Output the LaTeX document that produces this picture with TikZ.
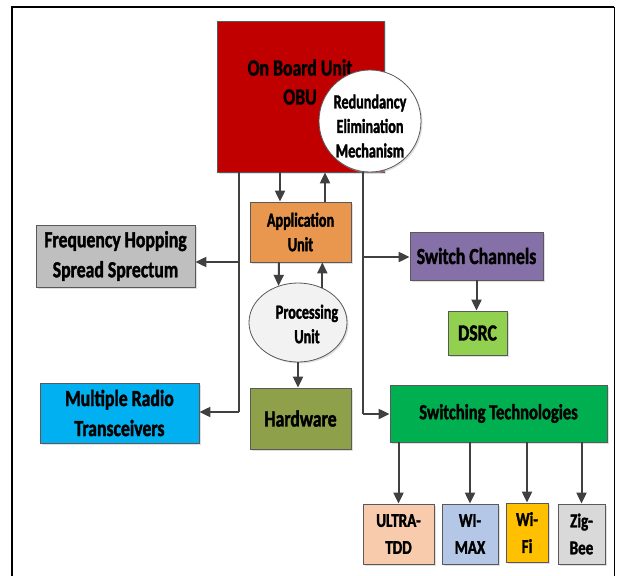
\documentclass[tikz,border=0pt]{standalone}
\usepackage{fontspec}
\setmainfont[FakeStretch=0.77, BoldFeatures={FakeBold=1.6}]{Carlito}
\newfontfamily\narrowfont[FakeStretch=0.71, BoldFeatures={FakeBold=1.6}]{Carlito}
\usetikzlibrary{arrows.meta,shapes.geometric,shadows}

\definecolor{obured}{HTML}{C00000}
\definecolor{fhssgray}{HTML}{BFBFBF}
\definecolor{mrtblue}{HTML}{00B0F0}
\definecolor{apporange}{HTML}{E9974F}
\definecolor{procgray}{HTML}{F2F2F2}
\definecolor{hwolive}{HTML}{8FA04B}
\definecolor{scpurple}{HTML}{8670A8}
\definecolor{dsrcgreen}{HTML}{92D050}
\definecolor{stgreen}{HTML}{00B050}
\definecolor{ultrapeach}{HTML}{F8CBAD}
\definecolor{wimaxblue}{HTML}{B4C7E7}
\definecolor{wifigold}{HTML}{FFC000}
\definecolor{zigbeegray}{HTML}{D9D9D9}
\definecolor{boxline}{HTML}{595959}
\definecolor{wire}{HTML}{404040}

\begin{document}
\begin{tikzpicture}[x=1pt,y=-1pt,
  shade/.style={drop shadow={shadow xshift=1.5pt,shadow yshift=-1.5pt,fill=black!25}},
  box/.style={draw=boxline, line width=0.8pt, inner sep=0pt, align=center,
    font=\bfseries\fontsize{23}{30}\selectfont, shade},
  smallfont/.style={font=\narrowfont\bfseries\fontsize{20}{24.5}\selectfont},
  smallbox/.style={box, smallfont},
  tinybox/.style={box, font=\bfseries\fontsize{19.5}{27}\selectfont},
  wireline/.style={draw=wire, line width=2pt},
  arr/.style={wireline, -{Triangle[length=11pt,width=10pt]}}
]
\useasboundingbox (0,0) rectangle (617,575);

% page frame
\draw[line width=1.5pt] (12,7) -- (614,7);
\draw[line width=2pt] (12,6.3) -- (12,590);
\draw[line width=1pt] (614,7) -- (614,590);

% on board unit
\node[box, fill=obured, minimum width=167pt, minimum height=151pt] (obu) at (300.5,96.5) {};
\node[font=\bfseries\fontsize{23}{29}\selectfont, align=center] (obutext) at (300,82) {On Board Unit\\OBU};
\node[circle, draw=boxline, line width=0.8pt, fill=white, minimum size=102pt, inner sep=0pt,
  shade] (rem) at (370,121) {};
\node[smallfont, align=center] (remtext) at (370,126) {Redundancy\\Elimination\\Mechanism};

% left side
\node[box, fill=fhssgray, minimum width=159pt, minimum height=62pt] (fhss) at (115.5,256)
  {Frequency Hopping\\Spread Sprectum};
\node[box, fill=mrtblue, minimum width=159pt, minimum height=60pt] (mrt) at (119.5,413)
  {Multiple Radio\\Transceivers};

% central column
\node[smallbox, fill=apporange, minimum width=101pt, minimum height=60pt] (app) at (300.5,232)
  {Application\\Unit};
\node[ellipse, draw=boxline, line width=0.8pt, fill=procgray, minimum width=98pt, minimum height=79pt,
  inner sep=0pt, shade] (proc) at (298,322.5) {};
\node[smallfont, align=center] (proctext) at (307,324) {Processing\\Unit};
\node[box, fill=hwolive, minimum width=101pt, minimum height=61pt] (hw) at (300.5,418.5) {Hardware};

% right side
\node[box, fill=scpurple, minimum width=133pt, minimum height=48pt] (sc) at (476.5,256) {Switch Channels};
\node[box, fill=dsrcgreen, minimum width=59pt, minimum height=44pt] (dsrc) at (477.5,333) {DSRC};
\node[box, fill=stgreen, minimum width=217pt, minimum height=57pt,
  font=\bfseries\fontsize{21.5}{29}\selectfont] (st) at (498.5,413.5) {Switching Technologies};

% technologies
\node[tinybox, fill=ultrapeach, minimum width=71pt, minimum height=60pt] (ultra) at (398.5,534) {ULTRA-\\TDD};
\node[tinybox, fill=wimaxblue, minimum width=56pt, minimum height=60pt] (wimax) at (470,534) {WI-\\MAX};
\node[tinybox, fill=wifigold, minimum width=42pt, minimum height=59pt] (wifi) at (527,532.5) {Wi-\\Fi};
\node[tinybox, fill=zigbeegray, minimum width=47pt, minimum height=60pt] (zig) at (581.5,534) {Zig-\\Bee};

% bus coordinates
\coordinate (lbus) at (239,412);
\coordinate (lbr) at (239,262);
\coordinate (rbus) at (363,414);
\coordinate (rbr) at (363,257);
\coordinate (down1) at (280,0);
\coordinate (up1) at (325,0);
\coordinate (down2) at (279,0);

% left bus
\draw[wireline] (obu.south -| lbus) -- (lbus);
\draw[arr] (lbr) -- (lbr -| fhss.east);
\draw[arr] (lbus) -- (lbus -| mrt.east);

% right bus
\draw[wireline] (obu.south -| rbus) -- (rbus);
\draw[arr] (rbr) -- (rbr -| sc.west);
\draw[arr] (rbus) -- (rbus -| st.west);

% OBU <-> application unit
\draw[arr] (obu.south -| down1) -- (app.north -| down1);
\draw[arr] (app.north -| up1) -- (obu.south -| up1);

% application unit <-> processing unit
\draw[arr] (app.south -| down2) -- (proc.118);
\draw[arr] (proc.55) -- (app.south -| proc.55);

% processing unit -> hardware
\draw[arr] (proc.south) -- (proc.south |- hw.north);

% switch channels -> DSRC
\draw[arr] (sc.south) -- (sc.south |- dsrc.north);

% switching technologies -> individual technologies
\draw[arr] (st.south -| ultra.north) -- (ultra.north);
\draw[arr] (st.south -| wimax.north) -- (wimax.north);
\draw[arr] (st.south -| wifi.north) -- (wifi.north);
\draw[arr] (st.south -| zig.north) -- (zig.north);
\end{tikzpicture}
\end{document}
